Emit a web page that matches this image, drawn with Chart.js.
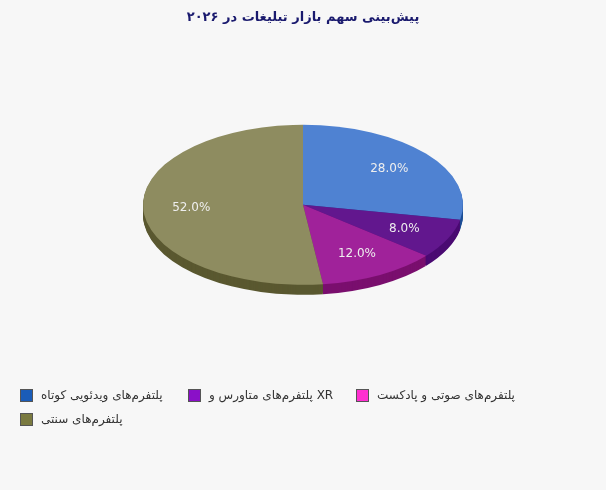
<!DOCTYPE html>
<html><head><meta charset="utf-8">
<script src="https://cdn.jsdelivr.net/npm/chart.js@4"></script>
<style>
body{margin:0;background:#f7f7f7;font-family:"DejaVu Sans",sans-serif;}
#wrap{position:absolute;left:0;top:0;width:606px;height:490px;}
#legend{position:absolute;left:20px;top:388px;width:570px;font-size:12px;color:#333;}
.it{display:inline-flex;align-items:center;width:168px;margin-bottom:10px;}
.it span.b{width:13px;height:13px;border:1px solid #555;margin-right:8px;flex:none;box-sizing:border-box;}
</style></head><body>
<div id="wrap"><canvas id="c" width="606" height="490"></canvas></div>
<div id="legend"></div>
<script>
const categories=["پلتفرم‌های ویدئویی کوتاه","XR پلتفرم‌های متاورس و","پلتفرم‌های صوتی و پادکست","پلتفرم‌های سنتی"];
const values=[28,8,12,52];
const faceColors=["#4f82d2","#62178e","#a0229a","#8e8c60"];
const sideColors=["#1d4f96","#4a0a72","#7a0f6e","#5a5830"];
const legendColors=["#1a5cb8","#8a10c8","#ff30d0","#7a7a40"];
const title="پیش‌بینی سهم بازار تبلیغات در ۲۰۲۶";
const SY=0.5,DEPTH=10;
function xf(ctx,a,d){const cx=a.x,cy=a.y;ctx.translate(cx,cy+d);ctx.scale(1,SY);ctx.translate(-cx,-cy);}
const pie3d={id:'pie3d',
beforeDatasetsDraw(chart){const ctx=chart.ctx;const arcs=chart.getDatasetMeta(0).data;
 for(let d=DEPTH;d>=1;d--){ctx.save();xf(ctx,arcs[0],d);
  arcs.forEach((a,i)=>{const o=a.options,bg=o.backgroundColor;o.backgroundColor=sideColors[i];a.draw(ctx);o.backgroundColor=bg;});
  ctx.restore();}
 ctx.save();xf(ctx,arcs[0],0);},
afterDatasetsDraw(chart){const ctx=chart.ctx;ctx.restore();const arcs=chart.getDatasetMeta(0).data;
 ctx.save();ctx.fillStyle="#eeeeee";ctx.font="12px 'DejaVu Sans'";ctx.textAlign="center";ctx.textBaseline="middle";
 arcs.forEach((a,i)=>{const m=(a.startAngle+a.endAngle)/2;const r=a.outerRadius*0.7;
  ctx.fillText(values[i].toFixed(1)+"%",a.x+r*Math.cos(m),a.y+r*SY*Math.sin(m));});
 ctx.restore();}};
new Chart(document.getElementById('c'),{type:'pie',
data:{labels:categories,datasets:[{data:values,backgroundColor:faceColors,borderWidth:0,radius:160}]},
options:{responsive:false,animation:false,events:[],
layout:{padding:{top:0,bottom:112}},
plugins:{legend:{display:false},tooltip:{enabled:false},
title:{display:true,text:title,color:"#1a1a6e",font:{size:13,weight:'bold',family:"'DejaVu Sans'"},padding:{top:10,bottom:6}}}},
plugins:[pie3d]});
const lg=document.getElementById('legend');
categories.forEach((c,i)=>{const d=document.createElement('div');d.className='it';
 d.innerHTML='<span class="b" style="background:'+legendColors[i]+'"></span><span dir="rtl">'+c+'</span>';lg.appendChild(d);});
</script></body></html>
